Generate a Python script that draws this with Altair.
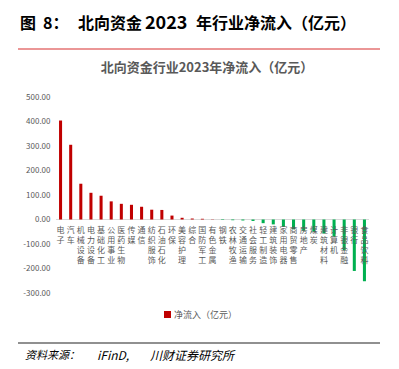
import altair as alt
import pandas as pd

categories = ["电子", "汽车", "机械设备", "电力设备", "基础化工", "公用事业", "医药生物", "传媒",
              "通信", "纺织服饰", "石油石化", "环保", "美容护理", "综合", "国防军工", "有色金属",
              "钢铁", "农林牧渔", "交通运输", "社会服务", "轻工制造", "建筑装饰", "家用电器",
              "商贸零售", "房地产", "煤炭", "建筑材料", "计算机", "非银金融", "银行", "食品饮料"]
values = [404, 305, 146, 109, 97, 74, 64, 60, 52, 40, 39, 16, 7, 4, 3, 1,
          -2, -3, -4, -6, -15, -20, -30, -40, -46, -50, -57, -70, -125, -210, -252]
series_name = "净流入（亿元）"
y_ticks = [-300, -200, -100, 0, 100, 200, 300, 400, 500]

FONT = "Noto Sans CJK SC"
GRAY = "#595959"

df = pd.DataFrame({"industry": categories, "value": values, "series": series_name})
df["vlabel"] = df["industry"].apply(lambda s: "\n".join(s))

yscale = alt.Scale(domain=[-300, 500], nice=False)
yaxis = alt.Axis(values=y_ticks, title=None, domain=False, ticks=False, grid=False,
                 labelOverlap=False,
                 labelExpr="(datum.value < 0 ? '-' : '') + format(abs(datum.value), '.2f')",
                 labelFont=FONT, labelFontSize=8, labelColor=GRAY, labelPadding=6)

xenc = alt.X("industry:N", sort=categories,
             scale=alt.Scale(paddingInner=0.7, paddingOuter=0.3), axis=None)

bars = alt.Chart(df).mark_bar().encode(
    x=xenc,
    y=alt.Y("value:Q", scale=yscale, axis=yaxis),
    color=alt.condition(
        alt.datum.value < 0,
        alt.value("#00B050"),
        alt.Color("series:N", scale=alt.Scale(range=["#C00000"]),
                  legend=alt.Legend(title=None, orient="none", legendX=107, legendY=213,
                                    symbolType="square", symbolSize=49, symbolStrokeWidth=0,
                                    labelFont=FONT, labelFontSize=9, labelColor=GRAY,
                                    labelOffset=2, padding=0)),
    ),
)

zero = alt.Chart(pd.DataFrame({"z": [0]})).mark_rule(color="#D9D9D9", strokeWidth=1).encode(
    y=alt.Y("z:Q", scale=yscale, axis=yaxis)
)

labels = alt.Chart(df).mark_text(baseline="top", align="center", lineBreak="\n", lineHeight=10,
                                 fontSize=8, font=FONT, color=GRAY, dy=7).encode(
    x=alt.X("industry:N", sort=categories), y=alt.YDatum(0, scale=yscale, axis=yaxis),
    text="vlabel:N"
)

one = pd.DataFrame({"d": [0]})


def txt(s, x, y, size, bold=False, color="black", style="normal", align="left"):
    return alt.Chart(one).mark_text(align=align, baseline="middle", font=FONT, fontSize=size,
                                    fontWeight="bold" if bold else "normal", color=color,
                                    fontStyle=style).encode(
        x=alt.value(x), y=alt.value(y), text=alt.value(s))


def hline(x1, x2, y, color, w=1.5):
    return alt.Chart(one).mark_rule(color=color, strokeWidth=w).encode(
        x=alt.value(x1), x2=alt.value(x2), y=alt.value(y))


deco = [
    hline(-38, 324, -92, "#333333", 1.5),
    txt("图", -36, -73, 16, bold=True),
    txt("8：", -13, -73, 16, bold=True),
    txt("北向资金", 22, -73, 16, bold=True),
    txt("2023", 89, -73, 18, bold=True),
    txt("年行业净流入（亿元）", 140, -73, 16, bold=True),
    hline(-38, 324, -48, "#E57373", 1.5),
    txt("北向资金行业2023年净流入（亿元）", 151, -29, 13, bold=True, color=GRAY, align="center"),
    hline(-38, 324, 246, "#222222", 1.2),
    txt("资料来源：", -31, 259, 11, style="italic"),
    txt("iFinD,", 41, 259, 12, style="italic"),
    txt("川财证券研究所", 94, 259, 12, style="italic"),
]

chart = alt.layer(zero, bars, labels, *deco).properties(
    width=313, height=196,
    padding={"left": 48, "top": 89, "right": 22, "bottom": 74},
    autosize=alt.AutoSizeParams(type="none"),
).configure_view(stroke=None).configure_axis(labelOverlap=False)

chart.save("out.html", embed_options={"renderer": "svg", "actions": False})
